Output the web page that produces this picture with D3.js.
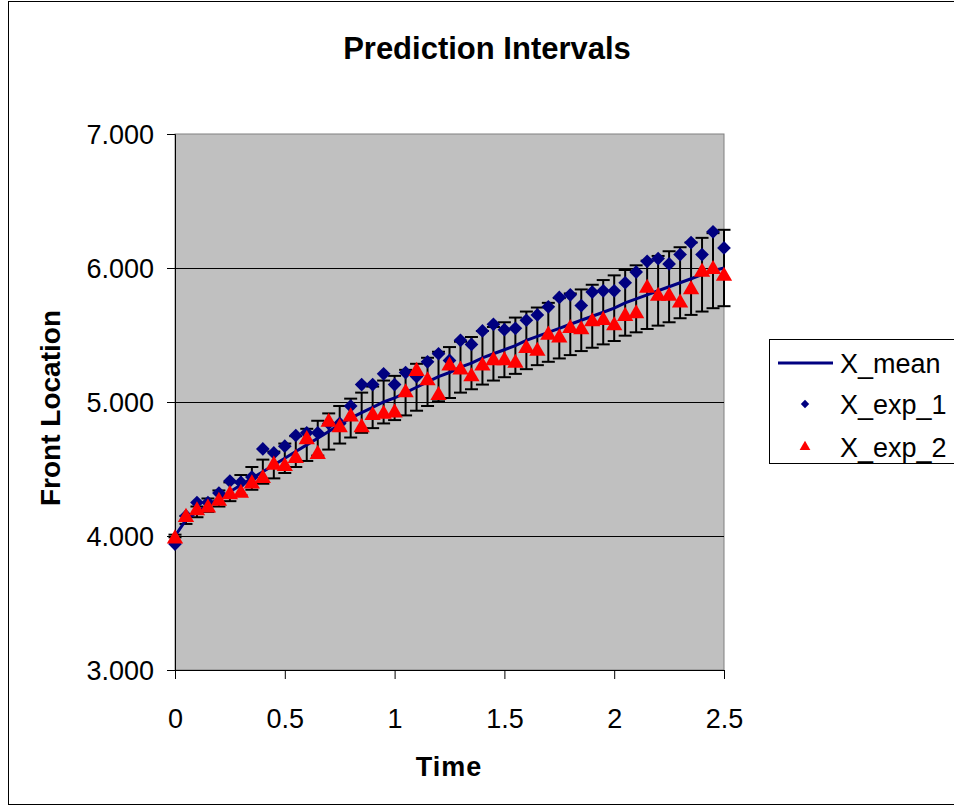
<!DOCTYPE html>
<html>
<head>
<meta charset="utf-8">
<script src="https://cdn.jsdelivr.net/npm/d3@7"></script>
<style>
  html, body { margin: 0; padding: 0; background: #fff; }
  svg { display: block; font-family: "Liberation Sans", Arial, sans-serif; }
</style>
</head>
<body>
<div id="chart"></div>
<script>
// Prediction intervals chart

const time = [0, 0.05, 0.1, 0.15, 0.2, 0.25, 0.3, 0.35, 0.4, 0.45, 0.5, 0.55, 0.6, 0.65, 0.7, 0.75,
    0.8, 0.85, 0.9, 0.95, 1.0, 1.05, 1.1, 1.15, 1.2, 1.25, 1.3, 1.35, 1.4, 1.45, 1.5, 1.55, 1.6, 1.65,
    1.7, 1.75, 1.8, 1.85, 1.9, 1.95, 2.0, 2.05, 2.1, 2.15, 2.2, 2.25, 2.3, 2.35, 2.4, 2.45, 2.5];

const xMean = [4.00, 4.12, 4.18, 4.23, 4.28, 4.33, 4.38, 4.43, 4.48, 4.53, 4.58, 4.63, 4.68, 4.73,
    4.78, 4.83, 4.88, 4.92, 4.96, 5.00, 5.03, 5.07, 5.11, 5.15, 5.19, 5.22, 5.26, 5.29, 5.33, 5.36,
    5.39, 5.42, 5.46, 5.49, 5.52, 5.55, 5.58, 5.61, 5.64, 5.67, 5.70, 5.74, 5.77, 5.80, 5.83, 5.86,
    5.89, 5.92, 5.95, 5.98, 6.00];

// half width of the prediction interval (error bars on X_mean)
const xHalf = [0.01, 0.03, 0.04, 0.05, 0.06, 0.07, 0.075, 0.085, 0.09, 0.10, 0.11, 0.115, 0.12,
    0.13, 0.135, 0.14, 0.145, 0.15, 0.155, 0.16, 0.165, 0.17, 0.175, 0.18, 0.185, 0.19, 0.19, 0.195,
    0.20, 0.20, 0.205, 0.21, 0.215, 0.215, 0.22, 0.225, 0.23, 0.23, 0.235, 0.24, 0.245, 0.245, 0.25,
    0.255, 0.26, 0.265, 0.265, 0.27, 0.275, 0.28, 0.285];

const xExp1 = [3.94, 4.15, 4.25, 4.25, 4.32, 4.41, 4.40, 4.44, 4.65, 4.62, 4.67, 4.75, 4.77, 4.77,
    4.84, 4.84, 4.97, 5.13, 5.13, 5.21, 5.13, 5.22, 5.19, 5.30, 5.36, 5.31, 5.46, 5.43, 5.53, 5.58,
    5.54, 5.55, 5.61, 5.65, 5.71, 5.78, 5.80, 5.72, 5.82, 5.83, 5.83, 5.89, 5.97, 6.05, 6.07, 6.03,
    6.10, 6.19, 6.10, 6.27, 6.15];

const xExp2 = [3.98, 4.14, 4.19, 4.21, 4.26, 4.31, 4.32, 4.39, 4.43, 4.53, 4.52, 4.58, 4.72, 4.61,
    4.85, 4.81, 4.89, 4.81, 4.90, 4.91, 4.92, 5.07, 5.23, 5.16, 5.05, 5.27, 5.24, 5.19, 5.27, 5.31,
    5.31, 5.29, 5.40, 5.38, 5.50, 5.48, 5.55, 5.54, 5.60, 5.61, 5.57, 5.64, 5.66, 5.85, 5.79, 5.79,
    5.74, 5.84, 5.97, 5.99, 5.94];

const xTicks = [0, 0.5, 1, 1.5, 2, 2.5];
const yTicks = [3, 4, 5, 6, 7];
const seriesNames = ['X_mean', 'X_exp_1', 'X_exp_2'];

const width = 954, height = 807;
const plot = { left: 175, right: 724, top: 134, bottom: 670 };

const colors = { mean: '#000080', exp1: '#000080', exp2: '#ff0000', plotBg: '#c0c0c0' };

const svg = d3.select('#chart').append('svg')
    .attr('width', width)
    .attr('height', height);

// Chart area border
svg.append('rect')
    .attr('x', 8.5).attr('y', 1.5)
    .attr('width', 1000).attr('height', 803)
    .attr('fill', '#fff')
    .attr('stroke', '#000')
    .attr('stroke-width', 1);

const x = d3.scaleLinear().domain([0, 2.5]).range([plot.left, plot.right]);
const y = d3.scaleLinear().domain([3, 7]).range([plot.bottom, plot.top]);

// Plot area
svg.append('rect')
    .attr('x', plot.left).attr('y', plot.top)
    .attr('width', plot.right - plot.left)
    .attr('height', plot.bottom - plot.top)
    .attr('fill', colors.plotBg)
    .attr('stroke', '#808080')
    .attr('stroke-width', 1);

// Gridlines
svg.append('g')
    .selectAll('line')
    .data(yTicks.filter(d => d > 3 && d < 7))
    .join('line')
    .attr('x1', plot.left).attr('x2', plot.right)
    .attr('y1', d => Math.round(y(d)) + 0.5).attr('y2', d => Math.round(y(d)) + 0.5)
    .attr('stroke', '#000')
    .attr('stroke-width', 1);

// Axes
const xAxis = d3.axisBottom(x).tickValues(xTicks).tickSize(9).tickFormat(d3.format('~g'));
const yAxis = d3.axisLeft(y).tickValues(yTicks).tickSize(8).tickFormat(d3.format('.3f'));

const gx = svg.append('g')
    .attr('transform', `translate(0, ${plot.bottom})`)
    .call(xAxis);
gx.select('.domain').attr('stroke', '#000');
gx.selectAll('.tick line').attr('stroke', '#000');
gx.selectAll('.tick text')
    .attr('font-size', 27).attr('font-family', '"Liberation Sans", Arial, sans-serif')
    .attr('fill', '#000').attr('dy', null).attr('y', 58);

const gy = svg.append('g')
    .attr('transform', `translate(${plot.left}, 0)`)
    .call(yAxis);
gy.select('.domain').attr('stroke', '#000');
gy.selectAll('.tick line').attr('stroke', '#000');
gy.selectAll('.tick text')
    .attr('font-size', 27).attr('font-family', '"Liberation Sans", Arial, sans-serif')
    .attr('fill', '#000').attr('x', -21).attr('dy', '0.36em');

// Titles
svg.append('text')
    .attr('x', 487).attr('y', 59)
    .attr('text-anchor', 'middle')
    .attr('font-size', 31).attr('font-weight', 'bold')
    .text('Prediction Intervals');

svg.append('text')
    .attr('x', 449).attr('y', 776)
    .attr('text-anchor', 'middle')
    .attr('font-size', 27).attr('font-weight', 'bold')
    .attr('letter-spacing', 1)
    .text('Time');

svg.append('text')
    .attr('transform', 'translate(60, 408) rotate(-90)')
    .attr('text-anchor', 'middle')
    .attr('font-size', 28).attr('font-weight', 'bold')
    .text('Front Location');

// Error bars on X_mean
const capHalf = 6.5;
const bars = svg.append('g')
    .attr('stroke', '#000')
    .attr('stroke-width', 2)
    .selectAll('g')
    .data(time.map((t, i) => ({ t, lo: xMean[i] - xHalf[i], hi: xMean[i] + xHalf[i] })))
    .join('g');
bars.append('line')
    .attr('x1', d => x(d.t)).attr('x2', d => x(d.t))
    .attr('y1', d => y(d.lo)).attr('y2', d => y(d.hi));
bars.append('line')
    .attr('x1', d => x(d.t) - capHalf).attr('x2', d => x(d.t) + capHalf)
    .attr('y1', d => y(d.hi)).attr('y2', d => y(d.hi));
bars.append('line')
    .attr('x1', d => x(d.t) - capHalf).attr('x2', d => x(d.t) + capHalf)
    .attr('y1', d => y(d.lo)).attr('y2', d => y(d.lo));

// Mean line
const line = d3.line()
    .x((d, i) => x(time[i]))
    .y(d => y(d));
svg.append('path')
    .datum(xMean)
    .attr('d', line)
    .attr('fill', 'none')
    .attr('stroke', colors.mean)
    .attr('stroke-width', 3);

// Markers
const diamond = d3.symbol().type(d3.symbolDiamond2).size(120);
const triangle = d3.symbol().type(d3.symbolTriangle).size(115);

svg.append('g')
    .selectAll('path')
    .data(xExp1)
    .join('path')
    .attr('d', diamond)
    .attr('transform', (d, i) => `translate(${x(time[i])}, ${y(d)})`)
    .attr('fill', colors.exp1);

svg.append('g')
    .selectAll('path')
    .data(xExp2)
    .join('path')
    .attr('d', triangle)
    .attr('transform', (d, i) => `translate(${x(time[i])}, ${y(d)})`)
    .attr('fill', colors.exp2);

// Legend
const legend = svg.append('g');
legend.append('rect')
    .attr('x', 769.5).attr('y', 339.5)
    .attr('width', 300).attr('height', 124)
    .attr('fill', '#fff')
    .attr('stroke', '#000')
    .attr('stroke-width', 1);

const legendRows = [363, 404, 447];
legend.append('line')
    .attr('x1', 778).attr('x2', 833)
    .attr('y1', legendRows[0]).attr('y2', legendRows[0])
    .attr('stroke', colors.mean).attr('stroke-width', 3);
legend.append('path')
    .attr('d', d3.symbol().type(d3.symbolDiamond2).size(45)())
    .attr('transform', `translate(805, ${legendRows[1]})`)
    .attr('fill', colors.exp1);
legend.append('path')
    .attr('d', d3.symbol().type(d3.symbolTriangle).size(50)())
    .attr('transform', `translate(805, ${legendRows[2]})`)
    .attr('fill', colors.exp2);

legend.selectAll('text')
    .data(seriesNames)
    .join('text')
    .attr('x', 840)
    .attr('y', (d, i) => legendRows[i])
    .attr('dy', '0.36em')
    .attr('font-size', 27)
    .text(d => d);
</script>
</body>
</html>
